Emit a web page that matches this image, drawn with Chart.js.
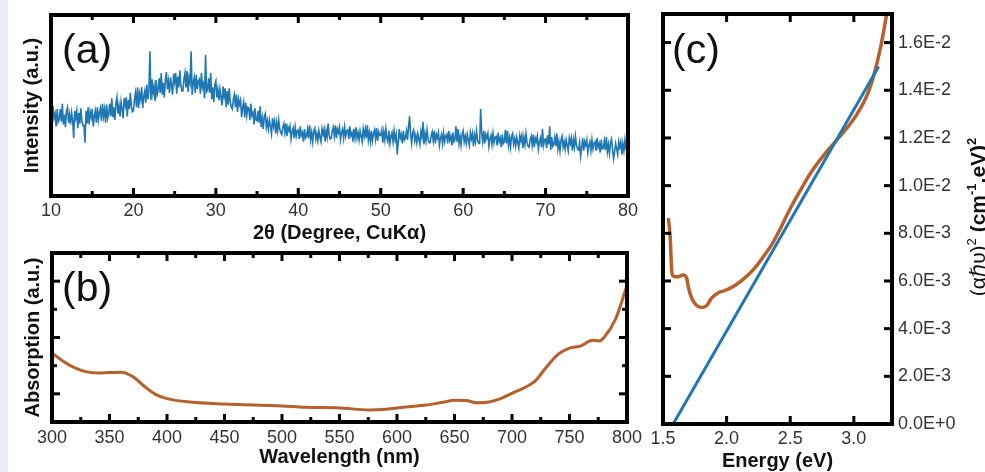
<!DOCTYPE html>
<html><head><meta charset="utf-8">
<script src="https://cdn.jsdelivr.net/npm/chart.js@4.4.0/dist/chart.umd.min.js"></script>
<style>
html,body{margin:0;padding:0;background:#fff;width:985px;height:472px;overflow:hidden;position:relative}
#strip{position:absolute;left:0;top:0;width:8px;height:472px;background:#e8ecf8}
canvas{position:absolute}
#ca{left:0;top:0}
#cb{left:0;top:240px}
#cc{left:640px;top:0}
</style></head><body>
<div id="strip"></div>
<canvas id="ca" width="650" height="245"></canvas>
<canvas id="cb" width="650" height="232"></canvas>
<canvas id="cc" width="345" height="472"></canvas>
<script>
// ---------- DATA ----------
// (a) XRD pattern, 2theta from 10 to 80 deg in 0.125 deg steps (one row per degree)
const XRD_START = 10, XRD_STEP = 0.125;
const XRD_INTENSITY = [
47.5,40.5,50,43,45.5,38.5,48,41,
42.5,48,41,51,39.5,45,38,47,
49,40.5,45,39.5,46,42,32,47,
43,47,37.5,46,40,48.5,41.5,39,
39,29.5,47,40,49,39.5,46.5,43.5,
48,38.5,44,47,40.5,49,42,46,
48.5,41.5,51,44,48,40.5,50.5,43,
45.5,51,44,54,43.5,49,42,51,
54.5,45.5,50,44,52,48,43,54,
50,54.5,44,53,48,57,49.5,46.5,
47,53.5,57,49,60,48.5,56.5,53.5,
60,48.5,55,58,51.5,61.5,53.5,58,
80,53,64.5,56.5,60.5,52.5,64,56,
58.5,65,57,68,56,62.5,54.5,64,
68.5,59,63.5,57,65.5,61,56,67.5,
63,68,56.5,66,60,69.5,61.5,58,
58,64.5,68,60,69,57.5,65.5,62.5,
80,56,62.5,65.5,57,67,59,63.5,
64.5,56.5,68,60,62,54,78,57.5,
58.5,65,57,68,53.5,60,52,61.5,
63.5,54.5,59,53,59,54.5,50,60.5,
55,59.5,49,58,50.5,59.5,52,49,
48,53.5,56,49,56,46.5,53.5,50.5,
53,43.5,49,52,43.5,51.5,44.5,49,
48.5,42,51,44.5,46,39.5,48.5,42,
41.5,47,40.5,49.5,38,43,37,44,
45.5,38,41.5,37,42,38.5,34.5,43,
38.5,41.5,34.5,40.5,36,42,37,35,
34,38,40,35,40,33,38,36,
38.5,31.5,35.5,37.5,32,38,33,36,
36.5,31.5,38.5,33.5,35,30,37,32,
33,37,32,39,31,35,30,36,
37.5,31.5,34.5,30.5,36,32.5,30,37,
34,37,30,36,32.5,40,33.5,31.5,
32,36,38,33,39,32,37,35,
38,31,35,37,32,38,33,36,
36.5,31.5,38.5,33.5,35,30,37,32,
38,32,35,31,36,33,30,37,
33,37,32,39,31,35,30,36,
30.5,34.5,36.5,31.5,37.5,30.5,35.5,33.5,
33.5,36.5,29.5,35.5,31,37,32,30,
36,29,33,35,30,36,31,34,
23,30,37,32,34,29,36,31,
32,36,31,38,44,34,29,35,
36.5,30.5,33.5,29.5,34.5,31.5,28.5,35.5,
32.5,41,28.5,34.5,30.5,36.5,31.5,29.5,
29.5,33.5,35.5,30.5,36,29,34,32,
35,28,32,34,29,35,30,33,
34,29,36,31,33,28,35,30,
31,38.5,30,37,29,33,28,34,
36,30,33,29,34,31,28,35,
31.5,34.5,27.5,33.5,30,36,31,29,
29,48,35,30,36,29,34,32,
34.5,27.5,31.5,33.5,28.5,34.5,29.5,32.5,
33,28,35,30,32,27,34,29,
30,36.5,29,36,28,32,27,33,
34.5,28.5,31.5,27.5,32.5,29.5,26.5,33.5,
30.5,33.5,26.5,32.5,28.5,34.5,29.5,27.5,
27,31,33,28,34,27,32,30,
33,26,30,32,27,37,28,31,
31.5,26.5,33.5,28.5,38.5,25.5,32.5,27.5,
28.5,32.5,27.5,34.5,26,30,25,31,
33,27,30,26,31,28,25,32,
29,32,25,31,27,33,28,26,
25.5,29.5,22,26.5,32,25,30,28,
31,24,28,30,25,31,26,29,
30,25,32,27,29,24,31,26,
26.5,30.5,25.5,32.5,24.5,28.5,23.5,29.5,
31.5,25.5,20.5,24.5,29,26,23,30,
27,30,23,29,25,31,26,24,
27
];
// (b) absorption spectrum
const ABS_WAVELENGTH = [300,310,320,330,340,350,360,370,380,390,400,420,450,500,520,550,575,590,600,625,640,650,660,670,680,690,700,710,720,730,740,750,760,770,776,780,790,800];
const ABS_VALUE      = [2.45,2.15,1.92,1.78,1.74,1.76,1.77,1.62,1.28,0.98,0.83,0.71,0.64,0.57,0.52,0.50,0.43,0.45,0.50,0.60,0.70,0.77,0.76,0.68,0.71,0.83,1.02,1.20,1.45,1.95,2.40,2.62,2.70,2.90,2.88,3.00,3.65,4.85];
// (c) Tauc plot and linear fit
const TAUC_ENERGY = [1.542,1.556,1.569,1.582,1.618,1.658,1.686,1.697,1.726,1.765,1.804,1.843,1.882,1.932,1.987,2.065,2.143,2.222,2.300,2.363,2.418,2.496,2.574,2.668,2.755,2.888,3.021,3.123,3.202,3.256,3.28];
const TAUC_VALUE  = [0.00864,0.00788,0.00640,0.00620,0.00618,0.00625,0.00612,0.00580,0.00527,0.00497,0.00489,0.00496,0.00528,0.00550,0.00560,0.00581,0.00613,0.00655,0.00710,0.00760,0.00815,0.00900,0.00975,0.01059,0.01122,0.01205,0.01297,0.01405,0.01560,0.01714,0.0180];
const FIT_ENERGY = [1.58, 3.195];
const FIT_VALUE  = [0, 0.0150];

// ---------- TICKS / LABELS ----------
const A_X_TICKS = [10,20,30,40,50,60,70,80];
const A_X_MINOR = [15,25,35,45,55,65,75];
const B_X_TICKS = [300,350,400,450,500,550,600,650,700,750,800];
const B_X_MINOR = [325,375,425,475,525,575,625,675,725,775];
const B_Y_MAJOR = [1,3,5];
const B_Y_MINOR = [2,4];
const C_X_TICKS = [1.5,2.0,2.5,3.0];
const C_X_TICK_LABELS = ['1.5','2.0','2.5','3.0'];
const C_Y_TICKS = [0,0.002,0.004,0.006,0.008,0.010,0.012,0.014,0.016];
const C_Y_TICK_LABELS = ['0.0E+0','2.0E-3','4.0E-3','6.0E-3','8.0E-3','1.0E-2','1.2E-2','1.4E-2','1.6E-2'];
const A_X_TITLE = '2θ (Degree, CuKα)';
const A_Y_TITLE = 'Intensity (a.u.)';
const B_X_TITLE = 'Wavelength (nm)';
const B_Y_TITLE = 'Absorption (a.u.)';
const C_X_TITLE = 'Energy (eV)';

// ---------- STYLE ----------
const FAM = "'Liberation Sans', Arial, Helvetica, 'DejaVu Sans', sans-serif";
Chart.defaults.font.family = FAM;
Chart.defaults.color = '#333';
const BLUE = '#1f77b4';
const ORANGE = '#b5602d';
const TICK_FONT = {size: 18};
const TITLE_FONT = {size: 20, weight: 'bold', lineHeight: 1};
const NOGRID = {display: false, drawTicks: false};

function fixedAxis(size, vertical) {
  return function (s) {
    if (vertical) s.width = size; else s.height = size;
    s.paddingLeft = 0; s.paddingRight = 0; s.paddingTop = 0; s.paddingBottom = 0;
  };
}
function explicitTicks(values) {
  return function (s) { s.ticks = values.map(v => ({value: v})); };
}

function drawRich(ctx, parts, cx, cy) {
  ctx.save();
  ctx.translate(cx, cy);
  ctx.rotate(-Math.PI / 2);
  ctx.textBaseline = 'alphabetic';
  ctx.fillStyle = '#111';
  let total = 0;
  parts.forEach(p => { ctx.font = p.font; p.w = ctx.measureText(p.t).width; total += p.w; });
  let x = -total / 2;
  parts.forEach(p => { ctx.font = p.font; ctx.fillText(p.t, x, p.dy); x += p.w; });
  ctx.restore();
}

const framePlugin = {
  id: 'frame',
  afterDatasetsDraw(chart, args, o) {
    const ctx = chart.ctx, a = chart.chartArea;
    const xs = chart.scales.x, ys = chart.scales.y;
    const TW = 3, MAJ = 8, MIN = 5;
    ctx.save();
    ctx.fillStyle = '#000';
    const xt = (vals, len) => (vals || []).forEach(v => {
      const p = xs.getPixelForValue(v);
      ctx.fillRect(p - TW / 2, a.bottom - len, TW, len);
      ctx.fillRect(p - TW / 2, a.top, TW, len);
    });
    const yt = (vals, len) => (vals || []).forEach(v => {
      const p = ys.getPixelForValue(v);
      ctx.fillRect(a.left, p - TW / 2, len, TW);
      ctx.fillRect(a.right - len, p - TW / 2, len, TW);
    });
    xt(o.xMajor, MAJ); xt(o.xMinor, MIN); yt(o.yMajor, MAJ); yt(o.yMinor, MIN);
    ctx.lineWidth = 4;
    ctx.strokeStyle = '#000';
    ctx.strokeRect(a.left, a.top, a.right - a.left, a.bottom - a.top);
    ctx.font = '41px ' + FAM;
    ctx.fillStyle = '#111';
    ctx.textBaseline = 'alphabetic';
    ctx.textAlign = 'left';
    ctx.fillText(o.label, a.left + o.lx, a.top + o.ly);
    ctx.restore();
    if (o.rich) drawRich(ctx, o.rich, o.richX, (a.top + a.bottom) / 2 - 2);
  }
};

const common = {
  responsive: false, animation: false, events: [],
  plugins: {legend: {display: false}, tooltip: {enabled: false}}
};

// ---------- (a) ----------
new Chart(document.getElementById('ca'), {
  type: 'line',
  data: {datasets: [{
    data: XRD_INTENSITY.map((v, i) => ({x: XRD_START + i * XRD_STEP, y: v})),
    borderColor: BLUE, borderWidth: 1.6, pointRadius: 0, tension: 0, fill: false
  }]},
  options: Object.assign({}, common, {
    layout: {padding: {top: 15, left: 0, right: 22, bottom: 0}},
    plugins: Object.assign({}, common.plugins, {frame: {xMajor: A_X_TICKS.slice(1, -1), xMinor: A_X_MINOR, label: '(a)', lx: 11, ly: 48}}),
    scales: {
      x: {type: 'linear', position: 'bottom', min: 10, max: 80,
          afterBuildTicks: explicitTicks(A_X_TICKS), afterFit: fixedAxis(49, false),
          grid: NOGRID, border: {display: false},
          ticks: {font: TICK_FONT, color: '#333', padding: 4, maxRotation: 0, autoSkip: false, callback: v => String(v)},
          title: {display: true, text: A_X_TITLE, font: TITLE_FONT, color: '#111', padding: {top: 0, bottom: 2}}},
      y: {type: 'linear', position: 'left', min: 0, max: 100,
          afterFit: fixedAxis(51, true),
          grid: NOGRID, border: {display: false}, ticks: {display: false},
          title: {display: true, text: A_Y_TITLE, font: TITLE_FONT, color: '#111', padding: {top: 22, bottom: 0}}}
    }
  }),
  plugins: [framePlugin]
});

// ---------- (b) ----------
new Chart(document.getElementById('cb'), {
  type: 'line',
  data: {datasets: [{
    data: ABS_WAVELENGTH.map((w, i) => ({x: w, y: ABS_VALUE[i]})),
    borderColor: ORANGE, borderWidth: 3, pointRadius: 0, cubicInterpolationMode: 'monotone', fill: false
  }]},
  options: Object.assign({}, common, {
    layout: {padding: {top: 13, left: 0, right: 23, bottom: 0}},
    plugins: Object.assign({}, common.plugins, {frame: {xMajor: B_X_TICKS.slice(1, -1), xMinor: B_X_MINOR, yMajor: B_Y_MAJOR, yMinor: B_Y_MINOR, label: '(b)', lx: 10, ly: 48}}),
    scales: {
      x: {type: 'linear', position: 'bottom', min: 300, max: 800,
          afterBuildTicks: explicitTicks(B_X_TICKS), afterFit: fixedAxis(50, false),
          grid: NOGRID, border: {display: false},
          ticks: {font: TICK_FONT, color: '#333', padding: 5, maxRotation: 0, autoSkip: false, callback: v => String(v)},
          title: {display: true, text: B_X_TITLE, font: TITLE_FONT, color: '#111', padding: {top: 0, bottom: 5}}},
      y: {type: 'linear', position: 'left', min: 0, max: 6,
          afterFit: fixedAxis(52, true),
          grid: NOGRID, border: {display: false}, ticks: {display: false},
          title: {display: true, text: B_Y_TITLE, font: TITLE_FONT, color: '#111', padding: {top: 23, bottom: 0}}}
    }
  }),
  plugins: [framePlugin]
});

// ---------- (c) ----------
const RICH = [
  {t: '(α', font: '21px ' + FAM, dy: 7},
  {t: 'ℏ', font: 'italic 21px ' + FAM, dy: 7},
  {t: 'υ)', font: '21px ' + FAM, dy: 7},
  {t: '2', font: '13px ' + FAM, dy: -2},
  {t: ' (cm', font: 'bold 21px ' + FAM, dy: 7},
  {t: '-1', font: 'bold 13px ' + FAM, dy: -2},
  {t: '.eV)', font: 'bold 21px ' + FAM, dy: 7},
  {t: '2', font: 'bold 13px ' + FAM, dy: -2}
];
new Chart(document.getElementById('cc'), {
  type: 'line',
  data: {datasets: [
    {data: FIT_ENERGY.map((e, i) => ({x: e, y: FIT_VALUE[i]})),
     borderColor: BLUE, borderWidth: 3, pointRadius: 0, tension: 0, fill: false},
    {data: TAUC_ENERGY.map((e, i) => ({x: e, y: TAUC_VALUE[i]})),
     borderColor: ORANGE, borderWidth: 3.5, pointRadius: 0, cubicInterpolationMode: 'monotone', fill: false}
  ]},
  options: Object.assign({}, common, {
    layout: {padding: {top: 14, left: 23, right: 0, bottom: 0}},
    plugins: Object.assign({}, common.plugins, {frame: {xMajor: C_X_TICKS.slice(1), yMajor: C_Y_TICKS.slice(1), label: '(c)', lx: 9, ly: 49, rich: RICH, richX: 338}}),
    scales: {
      x: {type: 'linear', position: 'bottom', min: 1.5, max: 3.3,
          afterBuildTicks: explicitTicks(C_X_TICKS), afterFit: fixedAxis(48, false),
          grid: NOGRID, border: {display: false},
          ticks: {font: TICK_FONT, color: '#333', padding: 4, maxRotation: 0, autoSkip: false, callback: (v, i) => C_X_TICK_LABELS[i]},
          title: {display: true, text: C_X_TITLE, font: TITLE_FONT, color: '#111', padding: {top: 0, bottom: 1}}},
      y: {type: 'linear', position: 'right', min: 0, max: 0.0172,
          afterBuildTicks: explicitTicks(C_Y_TICKS), afterFit: fixedAxis(93, true),
          grid: NOGRID, border: {display: false},
          ticks: {font: TICK_FONT, color: '#333', padding: 6, autoSkip: false, callback: (v, i) => C_Y_TICK_LABELS[i]}}
    }
  }),
  plugins: [framePlugin]
});
</script>
</body></html>
